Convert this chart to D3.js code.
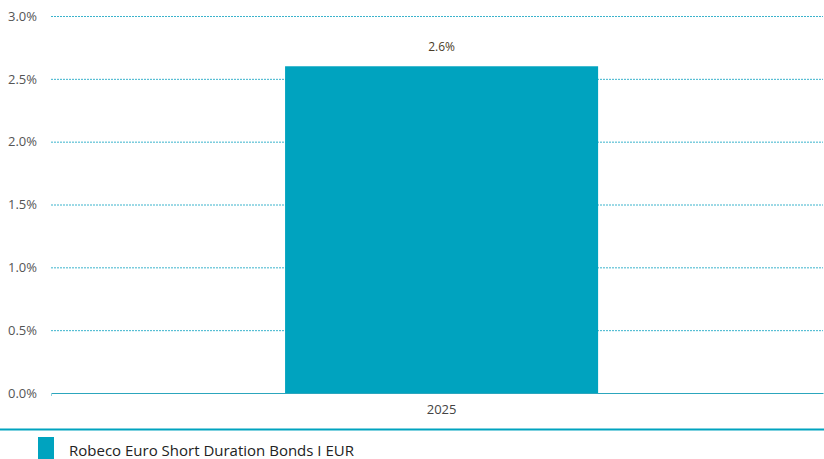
<!DOCTYPE html>
<html>
<head>
<meta charset="utf-8">
<script src="https://cdn.jsdelivr.net/npm/d3@7"></script>
<style>
  body { margin: 0; background: #fff; }
  svg { display: block; font-family: "Open Sans", "Noto Sans", sans-serif; }
</style>
</head>
<body>
<svg id="chart" width="824" height="459"></svg>
<script>
const years = ["2025"];
const returns = [2.6];
const yTicks = [0, 0.5, 1, 1.5, 2, 2.5, 3];
const seriesName = "Robeco Euro Short Duration Bonds I EUR";

const svg = d3.select("#chart"),
  margin = { top: 16, right: 1, bottom: 66, left: 51 },
  width = +svg.attr("width") - margin.left - margin.right,
  height = +svg.attr("height") - margin.top - margin.bottom;

const teal = "#00a3bf";

const g = svg.append("g")
  .attr("transform", `translate(${margin.left},${margin.top})`);

const x = d3.scaleBand().domain(years).range([0, width]).padding(0.423).align(0.51);
const y = d3.scaleLinear().domain([0, 3]).range([height, 0]);

// gridlines
g.selectAll(".grid")
  .data(yTicks.filter(d => d > 0))
  .enter().append("line")
  .attr("x1", 0).attr("x2", width)
  .attr("y1", d => y(d) + 0.5).attr("y2", d => y(d) + 0.5)
  .attr("stroke", "#3bb3cc")
  .attr("stroke-dasharray", "2,1");

// y axis labels
const yAxis = g.append("g").call(d3.axisLeft(y).tickValues(yTicks)
  .tickFormat(d => d.toFixed(1) + "%").tickSize(0).tickPadding(14));
yAxis.select(".domain").remove();
yAxis.selectAll("text").attr("font-size", 13).attr("fill", "#555")
  .attr("font-family", "Open Sans, sans-serif");

// bars
g.selectAll(".bar")
  .data(returns)
  .enter().append("rect")
  .attr("x", (d, i) => x(years[i]))
  .attr("y", d => y(d))
  .attr("width", x.bandwidth())
  .attr("height", d => height - y(d))
  .attr("fill", teal);

// value labels
g.selectAll(".val")
  .data(returns)
  .enter().append("text")
  .attr("x", (d, i) => x(years[i]) + x.bandwidth() / 2)
  .attr("y", d => y(d) - 15)
  .attr("text-anchor", "middle")
  .attr("font-size", 12)
  .attr("fill", "#4a3c28")
  .text(d => d.toFixed(1) + "%");

// x axis
const xAxis = g.append("g")
  .attr("transform", `translate(0,${height})`)
  .call(d3.axisBottom(x).tickSize(0).tickPadding(12));
xAxis.select(".domain").attr("stroke", "#2ca6bd").attr("stroke-width", 1);
xAxis.selectAll("text").attr("font-size", 13).attr("fill", "#444")
  .attr("font-family", "Open Sans, sans-serif");
g.append("line")
  .attr("x1", 0.5).attr("x2", 0.5)
  .attr("y1", height).attr("y2", height + 3)
  .attr("stroke", "#8fd0dc");

// legend
svg.append("line")
  .attr("x1", 0).attr("x2", 824)
  .attr("y1", 429.5).attr("y2", 429.5)
  .attr("stroke", teal).attr("stroke-width", 2);

const legend = svg.append("g").attr("transform", "translate(38,437)");
legend.append("rect")
  .attr("width", 16).attr("height", 22)
  .attr("fill", teal);
legend.append("text")
  .attr("x", 31).attr("y", 19)
  .attr("font-size", 15)
  .attr("fill", "#222")
  .attr("font-family", "Open Sans, sans-serif")
  .text(seriesName);
</script>
</body>
</html>
